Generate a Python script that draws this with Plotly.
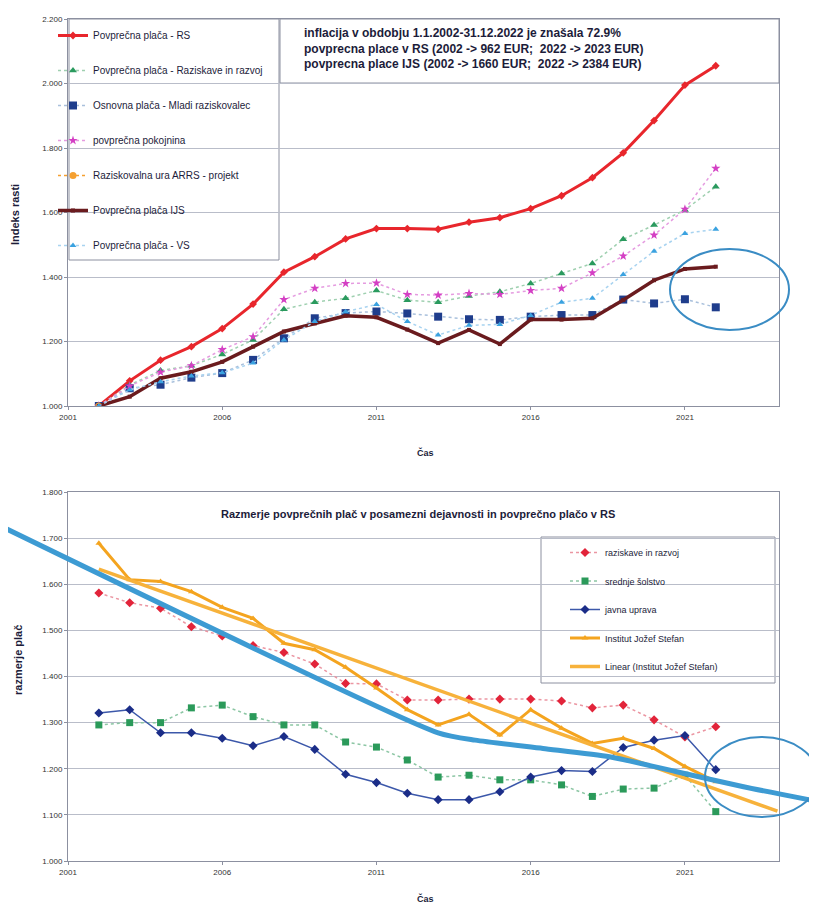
import plotly.graph_objects as go

W, H = 817, 911
OFF = 8  # page body margin of the html page
FW, FH = W - OFF, H - OFF
years = list(range(2002, 2023))

# ---------------- top chart data (index rasti) ----------------
rs_avg = [1.000, 1.078, 1.142, 1.184, 1.240, 1.316, 1.415, 1.463, 1.518, 1.550, 1.550,
          1.548, 1.570, 1.584, 1.612, 1.652, 1.708, 1.785, 1.885, 1.995, 2.055]
rr_avg = [1.000, 1.065, 1.110, 1.125, 1.160, 1.205, 1.300, 1.322, 1.334, 1.358, 1.328,
          1.322, 1.341, 1.354, 1.380, 1.411, 1.442, 1.517, 1.561, 1.608, 1.680]
mr_base = [1.000, 1.055, 1.066, 1.088, 1.102, 1.143, 1.210, 1.272, 1.288, 1.293, 1.287,
           1.277, 1.269, 1.267, 1.277, 1.282, 1.282, 1.330, 1.318, 1.331, 1.306]
pension = [1.000, 1.062, 1.105, 1.125, 1.175, 1.215, 1.330, 1.365, 1.380, 1.381, 1.346,
           1.344, 1.349, 1.346, 1.358, 1.365, 1.413, 1.465, 1.530, 1.610, 1.737]
arrs_years = [2002]
arrs_hour = [1.000]
ijs_avg = [1.000, 1.029, 1.086, 1.106, 1.137, 1.184, 1.231, 1.256, 1.280, 1.275, 1.237,
           1.195, 1.236, 1.192, 1.268, 1.268, 1.272, 1.329, 1.390, 1.425, 1.432]
vs_avg = [1.000, 1.050, 1.075, 1.093, 1.103, 1.133, 1.205, 1.262, 1.292, 1.315, 1.262,
          1.220, 1.250, 1.253, 1.281, 1.322, 1.334, 1.408, 1.480, 1.535, 1.548]

# ---------------- bottom chart data (razmerje plač) ----------------
r_raziskave = [1.581, 1.560, 1.548, 1.508, 1.488, 1.467, 1.452, 1.427, 1.385, 1.384, 1.349,
               1.349, 1.351, 1.351, 1.351, 1.347, 1.332, 1.338, 1.306, 1.269, 1.291]
r_solstvo = [1.295, 1.300, 1.300, 1.332, 1.338, 1.313, 1.295, 1.295, 1.258, 1.247, 1.219,
             1.182, 1.186, 1.176, 1.176, 1.165, 1.140, 1.156, 1.158, 1.186, 1.107]
r_uprava = [1.321, 1.328, 1.278, 1.278, 1.266, 1.250, 1.270, 1.242, 1.188, 1.170, 1.147,
            1.133, 1.133, 1.150, 1.182, 1.196, 1.194, 1.246, 1.262, 1.272, 1.198]
r_ijs = [1.689, 1.610, 1.606, 1.584, 1.550, 1.526, 1.472, 1.458, 1.420, 1.375, 1.328,
         1.295, 1.318, 1.273, 1.328, 1.288, 1.255, 1.266, 1.244, 1.205, 1.172]
lin_x = [2002, 2024]
lin_y = [1.633, 1.108]
# hand-drawn blue overlay curve
blue_x = [1998.79, 2013.0, 2014.2, 2016.4, 2018.55, 2020.7, 2022.9, 2025.4]
blue_y = [1.727, 1.278, 1.262, 1.244, 1.226, 1.194, 1.161, 1.128]

x_ticks = [2001, 2006, 2011, 2016, 2021]

# ---------------- layout geometry (window pixels) ----------------
def px(x):
    return (x - OFF) / FW

def py(y):
    return 1 - (y - OFF) / FH

PX0, PX1 = 68, 779
XR = [2001, 2024.05]
TOP_PY = (19, 406)
TOP_R = [1.0, 2.2]
BOT_PY = (492, 861)
BOT_R = [1.0, 1.8]

dx0, dx1 = px(PX0), px(PX1)
ty0, ty1 = py(TOP_PY[1]), py(TOP_PY[0])
by0, by1 = py(BOT_PY[1]), py(BOT_PY[0])

# overlay axes spanning whole figure with same scale as bottom chart
sx = (XR[1] - XR[0]) / (dx1 - dx0)
ov_xr = [XR[0] - dx0 * sx, XR[1] + (1 - dx1) * sx]
sy = (BOT_R[1] - BOT_R[0]) / (by1 - by0)
ov_yr = [BOT_R[0] - by0 * sy, BOT_R[1] + (1 - by1) * sy]

FONT = "Liberation Sans Narrow, Arial Narrow, Liberation Sans, Arial, sans-serif"
TXT = "#1c1c3a"
GRID = "#b9bdc9"
AXL = "#8c90a0"

fig = go.Figure()

def top_trace(x, y, name, lcol, mcol, sym, msize, lw, dash, grp):
    fig.add_trace(go.Scatter(
        x=x, y=y, name=name, mode="lines+markers",
        line=dict(color=lcol, width=lw, dash=dash),
        marker=dict(color=mcol, symbol=sym, size=msize),
        xaxis="x", yaxis="y", legend="legend", legendgroup=grp))

top_trace(years, rs_avg, "Povprečna plača - RS", "#e8262c", "#e8262c", "diamond", 6, 3, "solid", "a")
top_trace(years, rr_avg, "Povprečna plača - Raziskave in razvoj", "#9fd0b0", "#2a9a5e", "triangle-up", 7, 1.5, "dot", "b")
top_trace(years, mr_base, "Osnovna plača - Mladi raziskovalec", "#a9c0dc", "#1f3d8c", "square", 8, 1.5, "dot", "c")
top_trace(years, pension, "povprečna pokojnina", "#e59be0", "#d43fc4", "star", 7, 1.5, "dot", "d")
top_trace(arrs_years, arrs_hour, "Raziskovalna ura ARRS - projekt", "#f5a030", "#f5a030", "circle", 7, 1.5, "dot", "e")
top_trace(years, ijs_avg, "Povprečna plača IJS", "#6a1b1e", "#6a1b1e", "square", 4, 3.5, "solid", "f")
top_trace(years, vs_avg, "Povprečna plača - VS", "#a8d3f0", "#3aa2e0", "triangle-up", 6, 1.5, "dot", "g")

def bot_trace(x, y, name, lcol, mcol, sym, msize, lw, dash, grp, mode="lines+markers"):
    fig.add_trace(go.Scatter(
        x=x, y=y, name=name, mode=mode,
        line=dict(color=lcol, width=lw, dash=dash),
        marker=dict(color=mcol, symbol=sym, size=msize),
        xaxis="x2", yaxis="y2", legend="legend2", legendgroup=grp))

bot_trace(years, r_raziskave, "raziskave in razvoj", "#eb96a2", "#e2243a", "diamond", 7, 1.5, "dot", "p")
bot_trace(years, r_solstvo, "srednje šolstvo", "#8cc6a4", "#2b9a5a", "square", 7, 1.5, "dot", "q")
bot_trace(years, r_uprava, "javna uprava", "#3c58aa", "#1b2d88", "diamond", 7, 1.5, "solid", "r")
bot_trace(years, r_ijs, "Institut Jožef Stefan", "#f4a41f", "#f4a41f", "triangle-up", 6, 3, "solid", "s")
bot_trace(lin_x, lin_y, "Linear (Institut Jožef Stefan)", "#f7b23b", "#f7b23b", "circle", 1, 3.5, "solid", "t", mode="lines")

fig.add_trace(go.Scatter(
    x=blue_x, y=blue_y, mode="lines", line=dict(color="#3d9bd3", width=5, shape="spline", smoothing=0.6),
    xaxis="x3", yaxis="y3", showlegend=False, hoverinfo="skip"))

axis_common = dict(zeroline=False, linecolor=AXL, linewidth=1, mirror=True,
                   tickfont=dict(family=FONT, size=8, color="#333"), automargin=False,
                   ticks="outside", ticklen=3, tickcolor=AXL)

fig.update_layout(
    width=FW, height=FH,
    margin=dict(l=0, r=0, t=0, b=0, pad=0),
    paper_bgcolor="white", plot_bgcolor="rgba(0,0,0,0)",
    font=dict(family=FONT, color=TXT),
    xaxis=dict(domain=[dx0, dx1], range=XR, tickvals=x_ticks, anchor="y", showgrid=False, **axis_common),
    yaxis=dict(domain=[ty0, ty1], range=TOP_R, dtick=0.2, tickformat=".3f", anchor="x",
               showgrid=True, gridcolor=GRID, gridwidth=1.2, **axis_common),
    xaxis2=dict(domain=[dx0, dx1], range=XR, tickvals=x_ticks, anchor="y2", showgrid=False, **axis_common),
    yaxis2=dict(domain=[by0, by1], range=BOT_R, dtick=0.1, tickformat=".3f", anchor="x2",
                showgrid=True, gridcolor=GRID, gridwidth=1.2, **axis_common),
    xaxis3=dict(domain=[0, 1], range=ov_xr, visible=False, anchor="y3"),
    yaxis3=dict(domain=[0, 1], range=ov_yr, visible=False, anchor="x3"),
    legend=dict(x=px(53), y=py(21), xanchor="left", yanchor="top", bgcolor="rgba(0,0,0,0)",
                font=dict(family=FONT, size=10, color=TXT), tracegroupgap=16, itemwidth=30),
    legend2=dict(x=px(565), y=py(538), xanchor="left", yanchor="top", bgcolor="rgba(0,0,0,0)",
                 font=dict(family=FONT, size=9, color=TXT), tracegroupgap=9.5, itemwidth=30),
    showlegend=True,
)

shapes = [
    # top legend frame
    dict(type="rect", xref="paper", yref="paper", x0=px(69), x1=px(279), y0=py(260), y1=py(19),
         line=dict(color=AXL, width=1), fillcolor="rgba(0,0,0,0)", layer="below"),
    # info box
    dict(type="rect", xref="paper", yref="paper", x0=px(280), x1=px(779), y0=py(83), y1=py(19),
         line=dict(color=AXL, width=1), fillcolor="white", layer="below"),
    # bottom legend frame
    dict(type="rect", xref="paper", yref="paper", x0=px(541), x1=px(775), y0=py(683), y1=py(537),
         line=dict(color=AXL, width=1), fillcolor="white", layer="below"),
    # hand-drawn ellipses
    dict(type="circle", xref="paper", yref="paper", x0=px(670), x1=px(789), y0=py(330), y1=py(249),
         line=dict(color="#3a8cc4", width=2)),
    dict(type="circle", xref="paper", yref="paper", x0=px(705), x1=px(818), y0=py(817), y1=py(737),
         line=dict(color="#3a8cc4", width=2)),
]
fig.update_layout(shapes=shapes)

ann = []
info = ["inflacija v obdobju 1.1.2002-31.12.2022 je znašala 72.9%",
        "povprecna place v RS (2002 -> 962 EUR;  2022 -> 2023 EUR)",
        "povprecna place IJS (2002 -> 1660 EUR;  2022 -> 2384 EUR)"]
for i, t in enumerate(info):
    ann.append(dict(text="<b>%s</b>" % t, xref="paper", yref="paper", x=px(302), y=py(33 + 15.5 * i),
                    xanchor="left", yanchor="middle", showarrow=False,
                    font=dict(family=FONT, size=12, color=TXT)))
ann += [
    dict(text="<b>Indeks rasti</b>", xref="paper", yref="paper", x=px(15), y=py(215), textangle=-90,
         xanchor="center", yanchor="middle", showarrow=False, font=dict(family=FONT, size=11, color=TXT)),
    dict(text="<b>razmerje plač</b>", xref="paper", yref="paper", x=px(18), y=py(660), textangle=-90,
         xanchor="center", yanchor="middle", showarrow=False, font=dict(family=FONT, size=11, color=TXT)),
    dict(text="<b>Čas</b>", xref="paper", yref="paper", x=px(425), y=py(452),
         xanchor="center", yanchor="middle", showarrow=False, font=dict(family=FONT, size=9, color=TXT)),
    dict(text="<b>Čas</b>", xref="paper", yref="paper", x=px(425), y=py(898),
         xanchor="center", yanchor="middle", showarrow=False, font=dict(family=FONT, size=9, color=TXT)),
    dict(text="<b>Razmerje povprečnih plač v posamezni dejavnosti in povprečno plačo v RS</b>",
         xref="paper", yref="paper", x=px(418), y=py(514), xanchor="center", yanchor="middle",
         showarrow=False, font=dict(family=FONT, size=11, color=TXT)),
]
fig.update_layout(annotations=ann)

fig.write_html("out.html")
